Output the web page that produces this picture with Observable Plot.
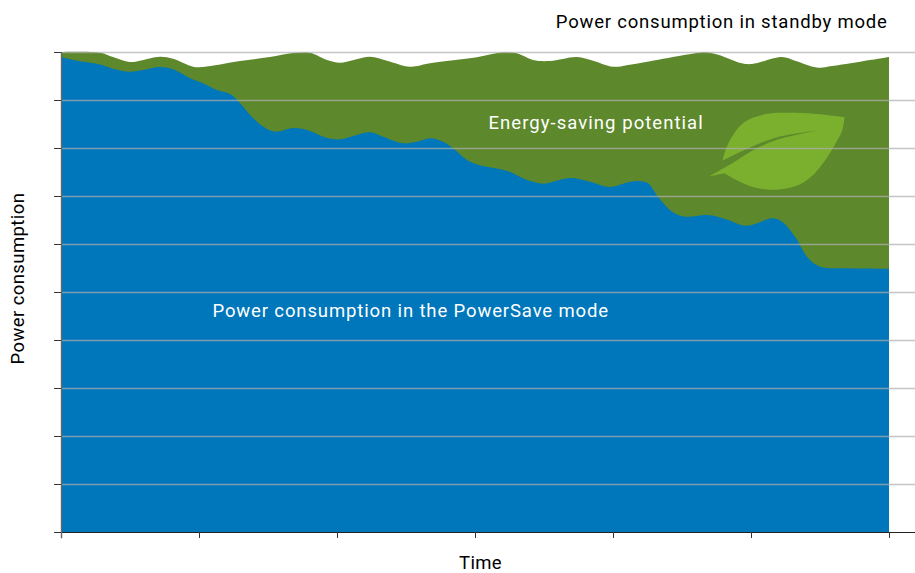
<!DOCTYPE html>
<html><head><meta charset="utf-8">
<script src="https://cdn.jsdelivr.net/npm/d3@7"></script>
<script src="https://cdn.jsdelivr.net/npm/@observablehq/plot@0.6"></script>
<style>html,body{margin:0;padding:0;background:#fff}svg{display:block}</style>
</head><body><div id="chart"></div>
<script>
const standbyX=[0,.283,.377,.5,.572,.717,.812,.957,1.029,1.297,1.514,1.681,1.804,1.928,2.022,2.239,2.362,2.529,2.674,3.014,3.203,3.304,3.42,3.543,3.739,3.855,4,4.123,4.594,4.667,4.761,4.935,5.007,5.225,5.319,5.486,5.587,6];
const standbyY=[10,9.985,9.896,9.792,9.819,9.902,9.86,9.694,9.688,9.812,9.896,9.979,9.985,9.833,9.777,9.902,9.819,9.694,9.765,9.89,9.994,9.973,9.833,9.812,9.896,9.819,9.694,9.735,9.973,10,9.944,9.765,9.75,9.896,9.819,9.673,9.708,9.896];
const saveX=[0,.138,.268,.377,.5,.594,.717,.812,.935,1.029,1.13,1.225,1.297,1.391,1.493,1.565,1.681,1.783,1.928,2.022,2.094,2.239,2.333,2.478,2.58,2.674,2.768,2.841,2.942,3.036,3.232,3.377,3.493,3.565,3.688,3.833,3.978,4.109,4.181,4.254,4.326,4.428,4.522,4.688,4.812,4.957,5.029,5.152,5.225,5.319,5.413,5.5,5.703,6];
const saveY=[9.896,9.806,9.75,9.652,9.59,9.625,9.688,9.64,9.452,9.348,9.208,9.125,8.938,8.625,8.396,8.34,8.417,8.375,8.208,8.181,8.229,8.327,8.235,8.098,8.131,8.202,8.131,7.994,7.75,7.64,7.521,7.333,7.256,7.298,7.375,7.298,7.188,7.285,7.313,7.265,6.985,6.673,6.569,6.604,6.521,6.381,6.417,6.535,6.465,6.152,5.708,5.527,5.494,5.485];
const leafX=[4.69,4.69,4.872,5.017,5.186,5.476,5.476,5.186,4.993,4.79,4.79,4.819,4.872,4.928,4.993,5.114,5.259,5.449,5.674,5.674,5.657,5.594,5.524,5.428,5.331,5.21,5.114,4.993,4.896,4.804,4.804,4.69,4.69];
const leafY=[7.417,7.417,7.715,7.973,8.181,8.375,8.375,8.235,8.027,7.75,7.75,8.021,8.306,8.5,8.619,8.723,8.744,8.723,8.652,8.652,8.375,8.027,7.715,7.402,7.229,7.152,7.146,7.215,7.333,7.485,7.485,7.417,7.417];
const xTicks=[0,1,2,3,4,5,6];
const yTicks=[0,1,2,3,4,5,6,7,8,9,10];
const labels=["Power consumption in standby mode","Energy-saving potential","Power consumption in the PowerSave mode","Time"];
const labelX=[5.986,3.094,1.094,3.036];
const labelY=[10.625,8.52,4.604,-0.635];
const labelFill=["#000","#fff","#fff","#000"];
const labelAnchor=["end","start","start","middle"];
const labelSpacing=[0.79,1.05,0.87,0.3];
const yLabel="Power consumption";
const yLabelSpacing=0.41;

const zip=(xs,ys)=>xs.map((x,i)=>({x,y:ys[i]}));
const textRows=labels.map((t,i)=>({t,x:labelX[i],y:labelY[i],f:labelFill[i],a:labelAnchor[i]}));
const font={fontFamily:"Roboto, sans-serif",fontSize:18.5,fontWeight:400};
const chart=Plot.plot({
  width:915,height:573,marginLeft:61,marginRight:0,marginTop:52,marginBottom:41,
  style:{background:"#fff",overflow:"visible"},
  x:{domain:[0,6*854/828],range:[61,915],axis:null},
  y:{domain:[0,10],range:[532,52],axis:null},
  marks:[
    Plot.areaY(zip(standbyX,standbyY),{x:"x",y:"y",fill:"#5d882b",curve:"catmull-rom"}),
    Plot.areaY(zip(saveX,saveY),{x:"x",y:"y",fill:"#0076bb",curve:"catmull-rom"}),
    Plot.line(zip(leafX,leafY),{x:"x",y:"y",fill:"#7bb02f",stroke:"none",curve:"catmull-rom"}),
    Plot.ruleY(yTicks.filter(d=>d>0),{stroke:"#afafaf",strokeOpacity:0.72,strokeWidth:1.3}),
    Plot.ruleY([0],{stroke:"#222",strokeWidth:1}),
    Plot.axisX({ticks:xTicks,tickFormat:()=>"",tickSize:6,label:null,stroke:"#333"}),
    Plot.axisY({ticks:yTicks,tickFormat:()=>"",tickSize:7,label:null,stroke:"#333"}),
    Plot.ruleX([0],{y1:-0.13,y2:10,stroke:"#666",strokeWidth:1.4}),
    ...["start","middle","end"].map(a=>Plot.text(textRows.filter(d=>d.a===a),{x:"x",y:"y",text:"t",fill:"f",textAnchor:a,...font})),
    Plot.text([yLabel],{x:[-0.312],y:[5.29],text:d=>d,rotate:-90,fill:"#000",...font})
  ]
});
d3.select(chart).selectAll("text").each(function(){
  const s=this.textContent; const i=labels.indexOf(s);
  if(i>=0) this.style.letterSpacing=labelSpacing[i]+"px";
  else if(s===yLabel) this.style.letterSpacing=yLabelSpacing+"px";
});
document.getElementById("chart").appendChild(chart);
</script></body></html>
